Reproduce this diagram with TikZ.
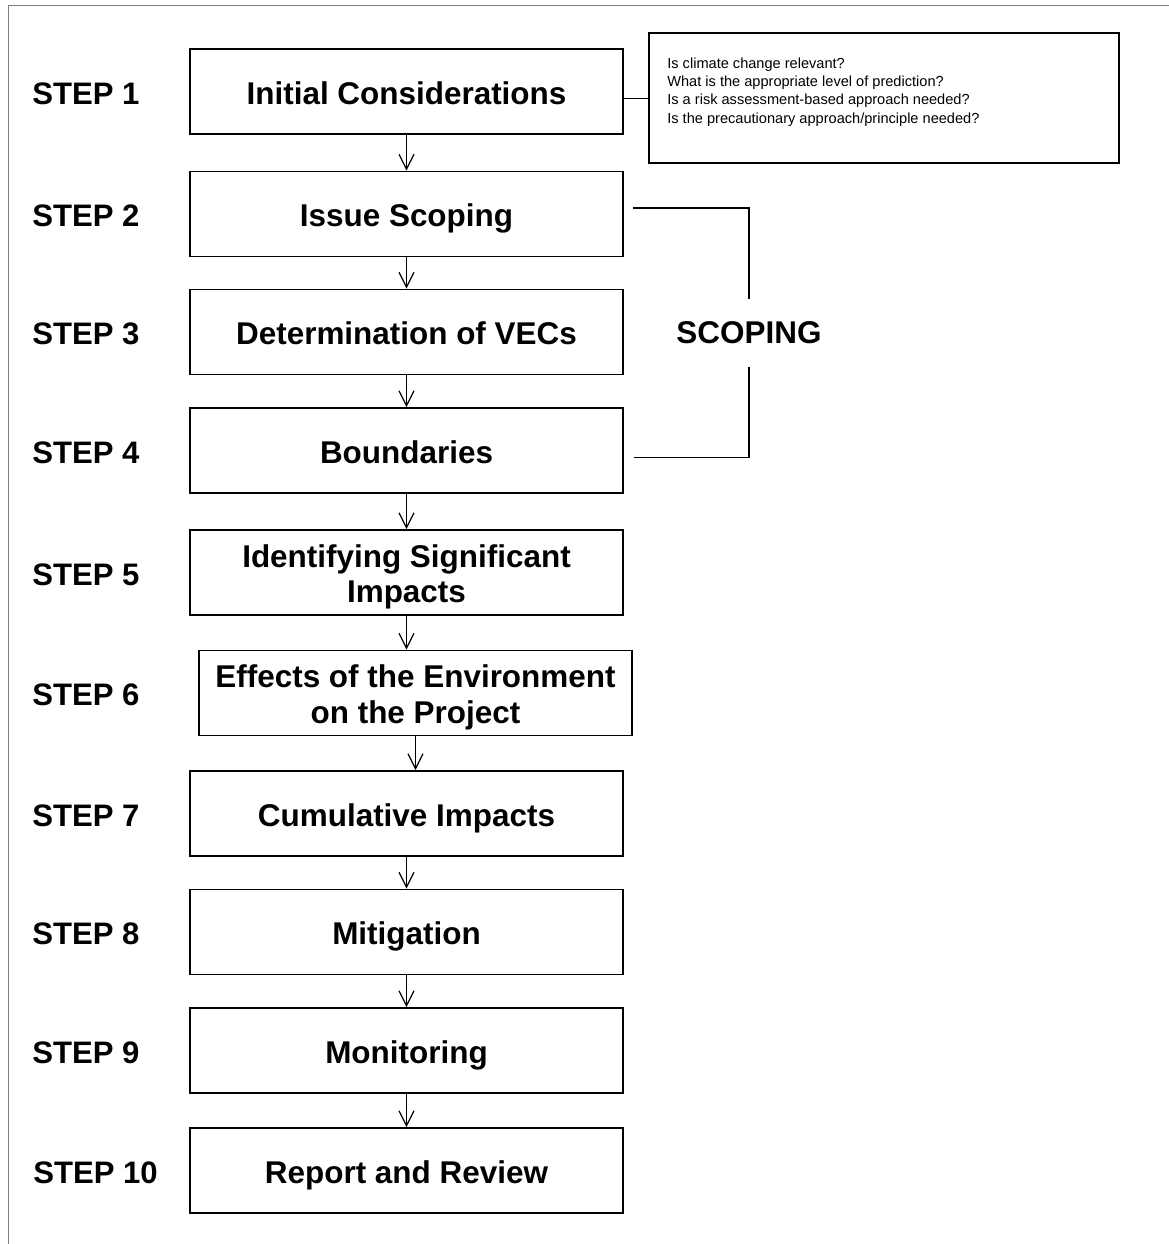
\documentclass[tikz,border=0pt]{standalone}
\usepackage{fontspec}
\setmainfont{Liberation Sans}
\usetikzlibrary{arrows.meta}

\tikzset{
  stepbox/.style={draw, line width=1.1pt, minimum width=8.66cm, minimum height=1.7cm,
    align=center, text height=16.1pt, text depth=1.8pt, font=\bfseries\fontsize{17.9}{20.4}\selectfont},
  twoline/.style={text height=36.5pt, text depth=1.8pt},
  steplabel/.style={anchor=west, inner sep=0pt, font=\bfseries\fontsize{17.7}{20}\selectfont},
  qbox/.style={draw, line width=1.3pt, minimum width=9.4cm, minimum height=2.6cm, anchor=north west},
  qtext/.style={inner sep=0pt, align=left, font=\fontsize{8.3}{10.4}\selectfont},
  flow/.style={line width=0.7pt, -{Straight Barb[length=8.5pt,width=8.5pt]}},
}

\begin{document}
\begin{tikzpicture}[x=0.02cm, y=-0.02cm]
	\useasboundingbox (0,0) rectangle (1169,1244);
	\draw[gray, line width=1.1pt] (8.5,1244) -- (8.5,5.5) -- (1169,5.5);

	% the ten steps
	\node[stepbox] (b1) at (406.5,91.5) {Initial Considerations};
	\node[stepbox] (b2) at (406.5,214) {Issue Scoping};
	\node[stepbox] (b3) at (406.5,332) {Determination of VECs};
	\node[stepbox] (b4) at (406.5,450.5) {Boundaries};
	\node[stepbox, twoline] (b5) at (406.5,572.5) {Identifying Significant\\Impacts};
	\node[stepbox, twoline] (b6) at (415.5,693) {Effects of the Environment\\on the Project};
	\node[stepbox] (b7) at (406.5,813.5) {Cumulative Impacts};
	\node[stepbox] (b8) at (406.5,932) {Mitigation};
	\node[stepbox] (b9) at (406.5,1050.5) {Monitoring};
	\node[stepbox] (b10) at (406.5,1170.5) {Report and Review};

	\node[steplabel] (s1) at (32,93.5) {STEP 1};
	\node[steplabel] (s2) at (32,216) {STEP 2};
	\node[steplabel] (s3) at (32,334) {STEP 3};
	\node[steplabel] (s4) at (32,452.5) {STEP 4};
	\node[steplabel] (s5) at (32,574.5) {STEP 5};
	\node[steplabel] (s6) at (32,695) {STEP 6};
	\node[steplabel] (s7) at (32,815.5) {STEP 7};
	\node[steplabel] (s8) at (32,934) {STEP 8};
	\node[steplabel] (s9) at (32,1052.5) {STEP 9};
	\node[steplabel] (s10) at (33,1172.5) {STEP 10};

	\draw[flow] (b1.south) -- (b1.south |- b2.north);
	\draw[flow] (b2.south) -- (b2.south |- b3.north);
	\draw[flow] (b3.south) -- (b3.south |- b4.north);
	\draw[flow] (b4.south) -- (b4.south |- b5.north);
	\draw[flow] (b5.south) -- (b5.south |- b6.north);
	\draw[flow] (b6.south) -- (b6.south |- b7.north);
	\draw[flow] (b7.south) -- (b7.south |- b8.north);
	\draw[flow] (b8.south) -- (b8.south |- b9.north);
	\draw[flow] (b9.south) -- (b9.south |- b10.north);

	% questions for step 1
	\node[qbox] (qs) at (648,32) {};
	\node[qtext, anchor=north west] (qt) at ([shift={(19,25.5)}]qs.north west)
		{Is climate change relevant?\\
		 What is the appropriate level of prediction?\\
		 Is a risk assessment-based approach needed?\\
		 Is the precautionary approach/principle needed?};
	\draw[line width=0.65pt] (qs.west) -- (qs.west -| b1.east);

	% scoping bracket
	\node[font=\bfseries\fontsize{17.9}{20}\selectfont, inner xsep=0pt, inner ysep=13pt] (scope) at (749,333) {SCOPING};
	\draw[line width=0.9pt] ([shift={(9,-6)}]b2.east) -| (scope.north);
	\draw[line width=0.9pt] (scope.south) |- ([shift={(10,7)}]b4.east);
\end{tikzpicture}
\end{document}
